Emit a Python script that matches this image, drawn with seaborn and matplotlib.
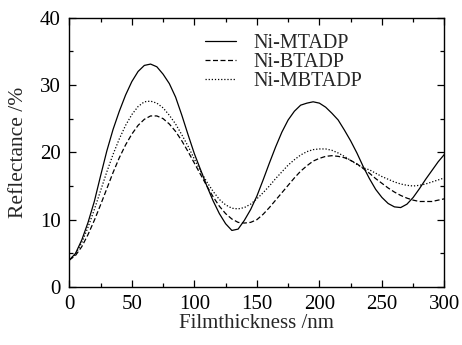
import numpy as np
import pandas as pd
import seaborn as sns
import matplotlib.pyplot as plt
from matplotlib.ticker import MultipleLocator

# film thickness (nm), read every 5 nm
thickness = list(range(0, 301, 5))

mtadp = [4.0, 5.0, 7.0, 9.6, 12.7, 16.5, 20.2, 23.4, 26.1, 28.5,
         30.5, 32.0, 32.9, 33.1, 32.7, 31.6, 30.2, 28.2, 25.5, 22.6,
         19.8, 17.4, 15.0, 12.8, 10.9, 9.4, 8.4, 8.6, 9.9, 11.5,
         13.5, 15.9, 18.4, 20.8, 23.0, 24.8, 26.1, 27.0, 27.3, 27.5,
         27.3, 26.7, 25.8, 24.8, 23.3, 21.7, 19.9, 17.9, 16.1, 14.5,
         13.3, 12.4, 11.9, 11.8, 12.3, 13.3, 14.6, 16.0, 17.3, 18.6,
         19.7]

btadp = [4.0, 4.7, 6.0, 7.8, 9.9, 12.2, 14.6, 17.0, 19.2, 21.1,
         22.7, 24.0, 24.9, 25.4, 25.4, 25.0, 24.2, 23.1, 21.7, 20.1,
         18.4, 16.7, 15.0, 13.4, 12.0, 10.9, 10.1, 9.6, 9.5, 9.6,
         10.0, 10.8, 11.8, 12.9, 14.0, 15.1, 16.2, 17.2, 18.0, 18.7,
         19.1, 19.4, 19.5, 19.4, 19.2, 18.8, 18.3, 17.6, 16.9, 16.1,
         15.4, 14.7, 14.1, 13.6, 13.2, 12.9, 12.7, 12.7, 12.7, 12.9,
         13.1]

mbtadp = [4.0, 4.9, 6.6, 8.9, 11.5, 14.3, 17.1, 19.7, 22.0, 24.0,
          25.6, 26.8, 27.5, 27.6, 27.3, 26.6, 25.5, 24.2, 22.6, 20.9,
          19.0, 17.2, 15.6, 14.2, 13.0, 12.2, 11.7, 11.6, 11.8, 12.3,
          13.1, 14.0, 15.0, 16.1, 17.1, 18.1, 18.9, 19.6, 20.1, 20.4,
          20.5, 20.5, 20.3, 19.9, 19.4, 18.8, 18.2, 17.7, 17.4, 16.9,
          16.4, 16.0, 15.6, 15.3, 15.1, 15.0, 15.1, 15.3, 15.6, 15.9,
          16.2]

labels = ["Ni-MTADP", "Ni-BTADP", "Ni-MBTADP"]

df = pd.DataFrame({
    "Filmthickness": thickness * 3,
    "Reflectance": mtadp + btadp + mbtadp,
    "Sample": np.repeat(labels, len(thickness)),
})

sns.set_style("ticks")
plt.rcParams["font.family"] = ["Liberation Serif", "DejaVu Serif"]

fig = plt.figure(figsize=(4.62, 3.45), dpi=100)
ax = fig.add_axes([0.150, 0.168, 0.812, 0.781])

sns.lineplot(
    data=df, x="Filmthickness", y="Reflectance", style="Sample",
    style_order=labels,
    dashes={"Ni-MTADP": "", "Ni-BTADP": (4, 2), "Ni-MBTADP": (1, 1.5)},
    color="black", linewidth=0.9, ax=ax,
)

ax.set_xlim(0, 300)
ax.set_ylim(0, 40)
ax.xaxis.set_major_locator(MultipleLocator(50))
ax.xaxis.set_minor_locator(MultipleLocator(25))
ax.yaxis.set_major_locator(MultipleLocator(10))
ax.yaxis.set_minor_locator(MultipleLocator(5))
ax.tick_params(which="both", direction="in", top=True, right=True,
               labelsize=15, width=0.9, colors="black")
ax.tick_params(which="major", length=5, pad=6)
ax.tick_params(which="minor", length=3)
for s in ax.spines.values():
    s.set_linewidth(1.0)
    s.set_color("black")

ax.set_xlabel("Filmthickness /nm", fontsize=15, labelpad=0)
ax.set_ylabel("Reflectance /%", fontsize=15.5, labelpad=9)

ax.legend(loc="upper left", bbox_to_anchor=(0.363, 0.94), frameon=False,
          fontsize=14.5, handlelength=1.5, handletextpad=0.9,
          labelspacing=0.0, borderaxespad=0.0, borderpad=0.0)

plt.savefig("out.png", dpi=100)
plt.close()
